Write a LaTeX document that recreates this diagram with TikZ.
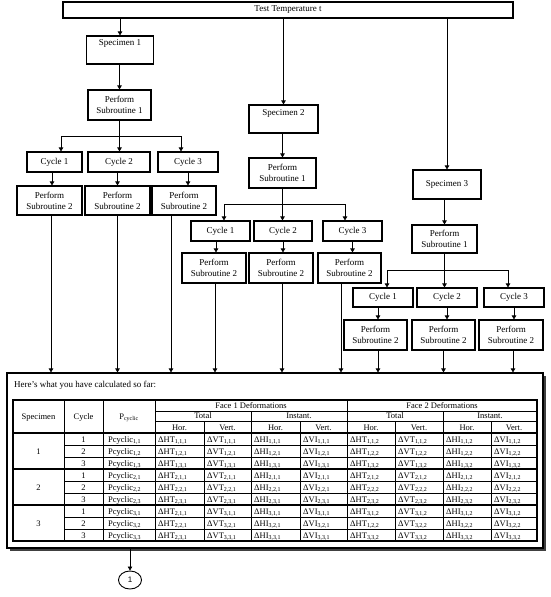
\documentclass[tikz,border=0pt]{standalone}
\usepackage{fontspec}
\setmainfont{Liberation Serif}
\newfontfamily\arialfont{Liberation Sans}
\usetikzlibrary{arrows.meta,calc,shapes.geometric}
\newcommand\tabrow[5]{%
 \pgfmathsetmacro\yb{433+12*#1+9}
 \node[cell,anchor=base] (cy#1) at (83.5,\yb) {#3};
 \node[cell,anchor=base west] (pc#1) at (108,\yb) {Pcyclic\textsubscript{#2,#3}};
 \node[cell,anchor=base west] (da#1) at (158,\yb) {ΔHT\textsubscript{#4}};
 \node[cell,anchor=base west] (db#1) at (207,\yb) {ΔVT\textsubscript{#2,#3,1}};
 \node[cell,anchor=base west] (dc#1) at (254,\yb) {ΔHI\textsubscript{#2,#3,1}};
 \node[cell,anchor=base west] (dd#1) at (303,\yb) {ΔVI\textsubscript{#2,#3,1}};
 \node[cell,anchor=base west] (de#1) at (350,\yb) {ΔHT\textsubscript{#5}};
 \node[cell,anchor=base west] (df#1) at (398,\yb) {ΔVT\textsubscript{#2,#3,2}};
 \node[cell,anchor=base west] (dg#1) at (446,\yb) {ΔHI\textsubscript{#2,#3,2}};
 \node[cell,anchor=base west] (dh#1) at (494,\yb) {ΔVI\textsubscript{#2,#3,2}};
}
\begin{document}
\begin{tikzpicture}[x=1pt,y=-1pt,
  box/.style={draw,line width=1.1pt,inner sep=0pt,align=center,font=\fontsize{9}{11}\selectfont},
  arr/.style={line width=0.7pt,-{Triangle[length=4pt,width=4.5pt]}},
  ln/.style={line width=0.7pt},
  cell/.style={inner sep=0pt,font=\fontsize{8.5}{9}\selectfont},
  tl/.style={line width=0.6pt},
  tk/.style={line width=1.1pt},
]
\useasboundingbox (0,0) rectangle (550,597);

% ---- top
\node[box,minimum width=450pt,minimum height=16pt] (top) at (288,10) {Test Temperature t};

% ---- specimen 1
\node[box,minimum width=67pt,minimum height=28pt] (s1) at (120,50) {Specimen 1\\[3pt]};
\node[box,minimum width=63pt,minimum height=30pt] (p1) at (119.5,105) {Perform\\Subroutine 1};
\node[box,minimum width=55pt,minimum height=20pt] (c11) at (54.5,162) {Cycle 1};
\node[box,minimum width=62pt,minimum height=20pt] (c12) at (119,162) {Cycle 2};
\node[box,minimum width=60pt,minimum height=20pt] (c13) at (188,162) {Cycle 3};
\node[box,minimum width=65pt,minimum height=29pt] (q11) at (49.5,200.5) {Perform\\Subroutine 2};
\node[box,minimum width=65pt,minimum height=29pt] (q12) at (117.5,200.5) {Perform\\Subroutine 2};
\node[box,minimum width=64pt,minimum height=29pt] (q13) at (184,200.5) {Perform\\Subroutine 2};

% ---- specimen 2
\node[box,minimum width=69pt,minimum height=28pt] (s2) at (283.5,119) {Specimen 2\\[1pt]};
\node[box,minimum width=67pt,minimum height=30pt] (p2) at (282.5,173) {Perform\\Subroutine 1};
\node[box,minimum width=59pt,minimum height=20pt] (c21) at (220.5,231) {Cycle 1};
\node[box,minimum width=58pt,minimum height=20pt] (c22) at (283,231) {Cycle 2};
\node[box,minimum width=59pt,minimum height=20pt] (c23) at (352.5,231) {Cycle 3};
\node[box,minimum width=64pt,minimum height=30pt] (q21) at (214,268) {Perform\\Subroutine 2};
\node[box,minimum width=64pt,minimum height=30pt] (q22) at (281,268) {Perform\\Subroutine 2};
\node[box,minimum width=63pt,minimum height=30pt] (q23) at (349.5,268) {Perform\\Subroutine 2};

% ---- specimen 3
\node[box,minimum width=68pt,minimum height=29pt] (s3) at (447,184.5) {Specimen 3};
\node[box,minimum width=65pt,minimum height=28pt] (p3) at (444.5,239) {Perform\\Subroutine 1};
\node[box,minimum width=60pt,minimum height=19pt] (c31) at (383,297.5) {Cycle 1};
\node[box,minimum width=60pt,minimum height=19pt] (c32) at (447,297.5) {Cycle 2};
\node[box,minimum width=60pt,minimum height=19pt] (c33) at (514,297.5) {Cycle 3};
\node[box,minimum width=63pt,minimum height=30pt] (q31) at (375.5,335) {Perform\\Subroutine 2};
\node[box,minimum width=63pt,minimum height=30pt] (q32) at (443.5,335) {Perform\\Subroutine 2};
\node[box,minimum width=64pt,minimum height=30pt] (q33) at (511,335) {Perform\\Subroutine 2};

% ---- results frame
\fill[black!75] (9.5,375.5) rectangle (545.5,550.5);
\node[draw,line width=1.1pt,fill=white,minimum width=536pt,minimum height=175pt,inner sep=0pt] (frame) at (275,460.5) {};
\node[anchor=base west,inner sep=0pt,font=\fontsize{9}{11}\selectfont] (hdr) at (14,387) {Here’s what you have calculated so far:};

% ---- arrows from top
\draw[arr] (s1.north |- top.south) -- (s1.north);
\draw[arr] (s2.north |- top.south) -- (s2.north);
\draw[arr] (s3.north |- top.south) -- (s3.north);

% ---- specimen 1 arrows
\draw[arr] (s1.south -| p1.north) -- (p1.north);
\coordinate (j1l) at (61,136); \coordinate (j1) at (119.5,136); \coordinate (j1r) at (181,136);
\draw[ln] (p1.south) -- (j1);
\draw[ln] (j1l) -- (j1r);
\draw[arr] (j1l) -- (j1l |- c11.north);
\draw[arr] (j1) -- (j1 |- c12.north);
\draw[arr] (j1r) -- (j1r |- c13.north);
\draw[arr] ($(c11.south)+(-2.5,0)$) coordinate (k11) -- (k11 |- q11.north);
\draw[arr] (c12.south -| q12.north) -- (q12.north);
\draw[arr] (c13.south) -- (c13.south |- q13.north);

% ---- specimen 2 arrows
\draw[arr] (s2.south -| p2.north) -- (p2.north);
\coordinate (j2l) at (224,204); \coordinate (j2) at (282.5,204); \coordinate (j2r) at (345,204);
\draw[ln] (p2.south) -- (j2);
\draw[ln] (j2l) -- (j2r);
\draw[arr] (j2l) -- (j2l |- c21.north);
\draw[arr] (j2) -- (j2 |- c22.north);
\draw[arr] (j2r) -- (j2r |- c23.north);
\draw[arr] ($(c21.south)+(-4.5,0)$) coordinate (k21) -- (k21 |- q21.north);
\draw[arr] (c22.south) -- (c22.south |- q22.north);
\draw[arr] (c23.south) -- (c23.south |- q23.north);

% ---- specimen 3 arrows
\draw[arr] (s3.south -| p3.north) -- (p3.north);
\coordinate (j3l) at (387,270); \coordinate (j3) at (444.5,270); \coordinate (j3r) at (508,270);
\draw[ln] (p3.south) -- (j3);
\draw[ln] (j3l) -- (j3r);
\draw[arr] (j3l) -- (j3l |- c31.north);
\draw[arr] (j3) -- (j3 |- c32.north);
\draw[arr] (j3r) -- (j3r |- c33.north);
\draw[arr] ($(c31.south)+(-5,0)$) coordinate (k31) -- (k31 |- q31.north);
\draw[arr] (c32.south) -- (c32.south |- q32.north);
\draw[arr] (c33.south) -- (c33.south |- q33.north);

% ---- long arrows into the frame
\draw[arr] ($(q11.south)+(1.5,0)$) coordinate (m11) -- (m11 |- frame.north);
\draw[arr] (q12.south) -- (q12.south |- frame.north);
\draw[arr] ($(q13.south)+(-13,0)$) coordinate (m13) -- (m13 |- frame.north);
\draw[arr] ($(q21.south)+(1,0)$) coordinate (m21) -- (m21 |- frame.north);
\draw[arr] ($(q22.south)+(1,0)$) coordinate (m22) -- (m22 |- frame.north);
\draw[arr] ($(q23.south)+(-8.5,0)$) coordinate (m23) -- (m23 |- frame.north);
\draw[arr] ($(q31.south)+(2.5,0)$) coordinate (m31) -- (m31 |- frame.north);
\draw[arr] (q32.south) -- (q32.south |- frame.north);
\draw[arr] ($(q33.south)+(2,0)$) coordinate (m33) -- (m33 |- frame.north);

% ---- table grid
\draw[tk] (13,400) rectangle (537,541);
\foreach \x in {64,103,155,347} \draw[tl] (\x,400) -- (\x,541);
\foreach \x in {251,443} \draw[tl] (\x,411) -- (\x,541);
\foreach \x in {204,300,395,491} \draw[tl] (\x,421) -- (\x,541);
\draw[tl] (155,411) -- (537,411);
\draw[tl] (155,421) -- (537,421);
\draw[tk] (13,433) -- (537,433);
\foreach \k in {1,2,4,5,7,8} \draw[tl] (64,{433+12*\k}) -- (537,{433+12*\k});
\foreach \k in {3,6} \draw[tk] (13,{433+12*\k}) -- (537,{433+12*\k});

% ---- table headers
\node[cell,anchor=base] (hs) at (38.5,419) {Specimen};
\node[cell,anchor=base] (hc) at (83.5,419) {Cycle};
\node[cell,anchor=base] (hp) at (129,419) {P\textsubscript{cyclic}};
\node[cell,anchor=base] (hf1) at (251,408.5) {Face 1 Deformations};
\node[cell,anchor=base] (hf2) at (442,408.5) {Face 2 Deformations};
\node[cell,anchor=base] (ht1) at (203,418.8) {Total};
\node[cell,anchor=base] (hi1) at (299,418.8) {Instant.};
\node[cell,anchor=base] (ht2) at (395,418.8) {Total};
\node[cell,anchor=base] (hi2) at (490,418.8) {Instant.};
\node[cell,anchor=base] (hh1) at (179.5,430) {Hor.};
\node[cell,anchor=base] (hv1) at (227.5,430) {Vert.};
\node[cell,anchor=base] (hh2) at (275.5,430) {Hor.};
\node[cell,anchor=base] (hv2) at (323.5,430) {Vert.};
\node[cell,anchor=base] (hh3) at (371,430) {Hor.};
\node[cell,anchor=base] (hv3) at (419,430) {Vert.};
\node[cell,anchor=base] (hh4) at (467,430) {Hor.};
\node[cell,anchor=base] (hv4) at (514,430) {Vert.};

% ---- specimen numbers
\node[cell,anchor=base] (sp1) at (38.5,454) {1};
\node[cell,anchor=base] (sp2) at (38.5,490) {2};
\node[cell,anchor=base] (sp3) at (38.5,526) {3};

% ---- data rows
\tabrow{0}{1}{1}{1,1,1}{1,1,2}
\tabrow{1}{1}{2}{1,2,1}{1,2,2}
\tabrow{2}{1}{3}{1,3,1}{1,3,2}
\tabrow{3}{2}{1}{2,1,1}{2,1,2}
\tabrow{4}{2}{2}{2,2,1}{2,2,2}
\tabrow{5}{2}{3}{2,3,1}{2,3,2}
\tabrow{6}{3}{1}{2,1,1}{3,1,2}
\tabrow{7}{3}{2}{2,2,1}{1,2,2}
\tabrow{8}{3}{3}{2,3,1}{3,3,2}

% ---- off-page connector
\node[draw,ellipse,line width=0.9pt,minimum width=23pt,minimum height=18pt,inner sep=0pt,font=\arialfont\fontsize{8}{9}\selectfont] (con) at (130,580) {1};
\draw[arr] (con.north |- frame.south) -- (con.north);
\end{tikzpicture}
\end{document}
